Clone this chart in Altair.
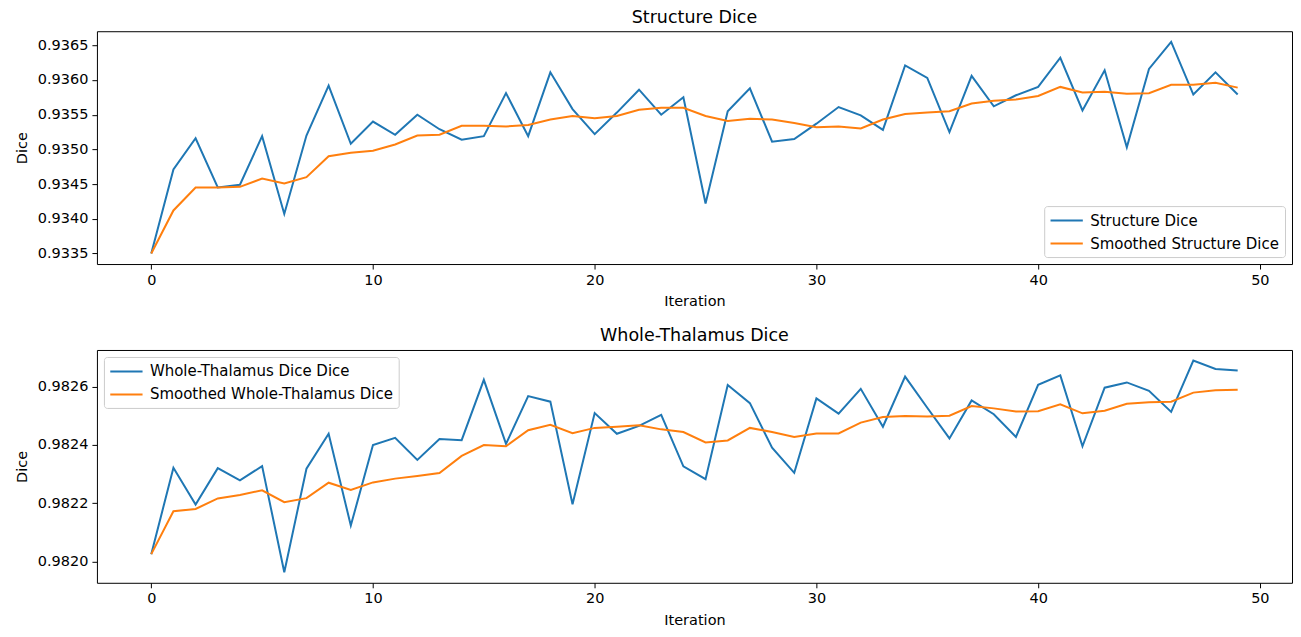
import altair as alt
import pandas as pd

iterations = list(range(50))

structure_dice = [
    0.93350, 0.93471, 0.93516, 0.93445, 0.93449, 0.93519, 0.93407, 0.93520, 0.93592, 0.93508,
    0.93540, 0.93521, 0.93550, 0.93529, 0.93514, 0.93519, 0.93581, 0.93519, 0.93611, 0.93558,
    0.93522, 0.93553, 0.93586, 0.93550, 0.93575, 0.93422, 0.93555, 0.93588, 0.93511, 0.93515,
    0.93537, 0.93561, 0.93549, 0.93528, 0.93621, 0.93603, 0.93525, 0.93606, 0.93562, 0.93578,
    0.93590, 0.93632, 0.93556, 0.93614, 0.93503, 0.93616, 0.93655, 0.93579, 0.93611, 0.93579,
]
structure_smoothed = [
    0.93350, 0.93412, 0.93445, 0.93445, 0.93446, 0.93458, 0.93451, 0.93460, 0.93490, 0.93495,
    0.93498, 0.93507, 0.93520, 0.93521, 0.93534, 0.93534, 0.93533, 0.93535, 0.93543, 0.93548,
    0.93545, 0.93548, 0.93557, 0.93560, 0.93560, 0.93548, 0.93541, 0.93544, 0.93543, 0.93538,
    0.93532, 0.93533, 0.93530, 0.93543, 0.93551, 0.93553, 0.93555, 0.93566, 0.93570, 0.93572,
    0.93577, 0.93590, 0.93582, 0.93583, 0.93580, 0.93581, 0.93593, 0.93593, 0.93596, 0.93589,
]
thalamus_dice = [
    0.982025, 0.982321, 0.982195, 0.982320, 0.982278, 0.982327, 0.981963, 0.982318, 0.982438, 0.982123,
    0.982399, 0.982424, 0.982348, 0.982420, 0.982416, 0.982623, 0.982403, 0.982567, 0.982548, 0.982196,
    0.982509, 0.982438, 0.982465, 0.982503, 0.982326, 0.982282, 0.982605, 0.982543, 0.982390, 0.982304,
    0.982559, 0.982507, 0.982592, 0.982462, 0.982634, 0.982527, 0.982422, 0.982552, 0.982505, 0.982427,
    0.982606, 0.982638, 0.982395, 0.982596, 0.982614, 0.982585, 0.982513, 0.982689, 0.982660, 0.982655,
]
thalamus_smoothed = [
    0.982025, 0.982172, 0.982180, 0.982216, 0.982228, 0.982244, 0.982203, 0.982217, 0.982270, 0.982245,
    0.982271, 0.982284, 0.982293, 0.982303, 0.982362, 0.982399, 0.982395, 0.982450, 0.982469, 0.982440,
    0.982458, 0.982462, 0.982467, 0.982453, 0.982444, 0.982408, 0.982415, 0.982458, 0.982444, 0.982427,
    0.982439, 0.982439, 0.982476, 0.982495, 0.982499, 0.982497, 0.982500, 0.982533, 0.982525, 0.982514,
    0.982515, 0.982539, 0.982508, 0.982517, 0.982541, 0.982546, 0.982548, 0.982579, 0.982587, 0.982589,
]

top_series = ["Structure Dice", "Smoothed Structure Dice"]
bottom_series = ["Whole-Thalamus Dice Dice", "Smoothed Whole-Thalamus Dice"]
top_title = "Structure Dice"
bottom_title = "Whole-Thalamus Dice"
colors = ["#1f77b4", "#ff7f0e"]

x_ticks = [0, 10, 20, 30, 40, 50]
top_ticks = [0.9335, 0.9340, 0.9345, 0.9350, 0.9355, 0.9360, 0.9365]
bottom_ticks = [0.9820, 0.9822, 0.9824, 0.9826]

FONT = "DejaVu Sans"
W, H = 1196, 233


def make_df(series_names, a, b):
    rows = []
    for name, vals in zip(series_names, [a, b]):
        for i, v in zip(iterations, vals):
            rows.append({"Iteration": i, "Dice": v, "Series": name})
    return pd.DataFrame(rows)


def padded(lo, hi):
    m = (hi - lo) * 0.05
    return [lo - m, hi + m]


def panel(df, series, title, yticks, ydomain, legend_orient):
    color = alt.Color(
        "Series:N",
        scale=alt.Scale(domain=series, range=colors),
        legend=alt.Legend(
            title=None,
            orient=legend_orient,
            offset=7,
            symbolType="M-1.9,0L1.9,0",
            symbolSize=289,
            symbolStrokeWidth=2,
            symbolOffset=8,
            labelFontSize=15,
            labelFont=FONT,
            labelColor="black",
            labelOffset=14,
            labelLimit=0,
            fillColor="white",
            strokeColor="#cccccc",
            cornerRadius=3,
            padding=5,
            rowPadding=5,
        ),
    )
    xdom = padded(0, 49)
    base = alt.Chart(df).mark_line(strokeWidth=2, clip=True).encode(
        x=alt.X(
            "Iteration:Q",
            scale=alt.Scale(domain=xdom, nice=False, zero=False),
            axis=alt.Axis(values=x_ticks, format="d", title="Iteration"),
        ),
        y=alt.Y(
            "Dice:Q",
            scale=alt.Scale(domain=ydomain, nice=False, zero=False),
            axis=alt.Axis(values=yticks, format=".4f", title="Dice"),
        ),
        color=color,
    )
    layers = [base.transform_filter(alt.datum.Series == s) for s in series]
    return alt.layer(*layers).properties(
        width=W,
        height=H,
        title=alt.Title(title, fontSize=17.5, font=FONT, fontWeight="normal", color="black", offset=5),
    )


top_df = make_df(top_series, structure_dice, structure_smoothed)
bottom_df = make_df(bottom_series, thalamus_dice, thalamus_smoothed)

top = panel(top_df, top_series, top_title, top_ticks,
            padded(min(structure_dice + structure_smoothed), max(structure_dice + structure_smoothed)),
            "bottom-right")
bottom = panel(bottom_df, bottom_series, bottom_title, bottom_ticks,
               padded(min(thalamus_dice + thalamus_smoothed), max(thalamus_dice + thalamus_smoothed)),
               "top-left")

chart = (
    alt.vconcat(top, bottom, spacing=18)
    .resolve_scale(color="independent")
    .resolve_legend(color="independent")
    .properties(padding={"left": 5, "top": 0, "right": 0, "bottom": 0})
    .configure_view(stroke="black", strokeWidth=1)
    .configure_axis(
        grid=False,
        domain=False,
        tickColor="black",
        tickSize=5,
        labelFont=FONT,
        labelFontSize=14.5,
        labelColor="black",
        labelPadding=4,
        titleFont=FONT,
        titleFontSize=14.5,
        titleFontWeight="normal",
        titleColor="black",
        titlePadding=8,
    )
)

chart.save("out.html", embed_options={"renderer": "svg", "actions": False})
